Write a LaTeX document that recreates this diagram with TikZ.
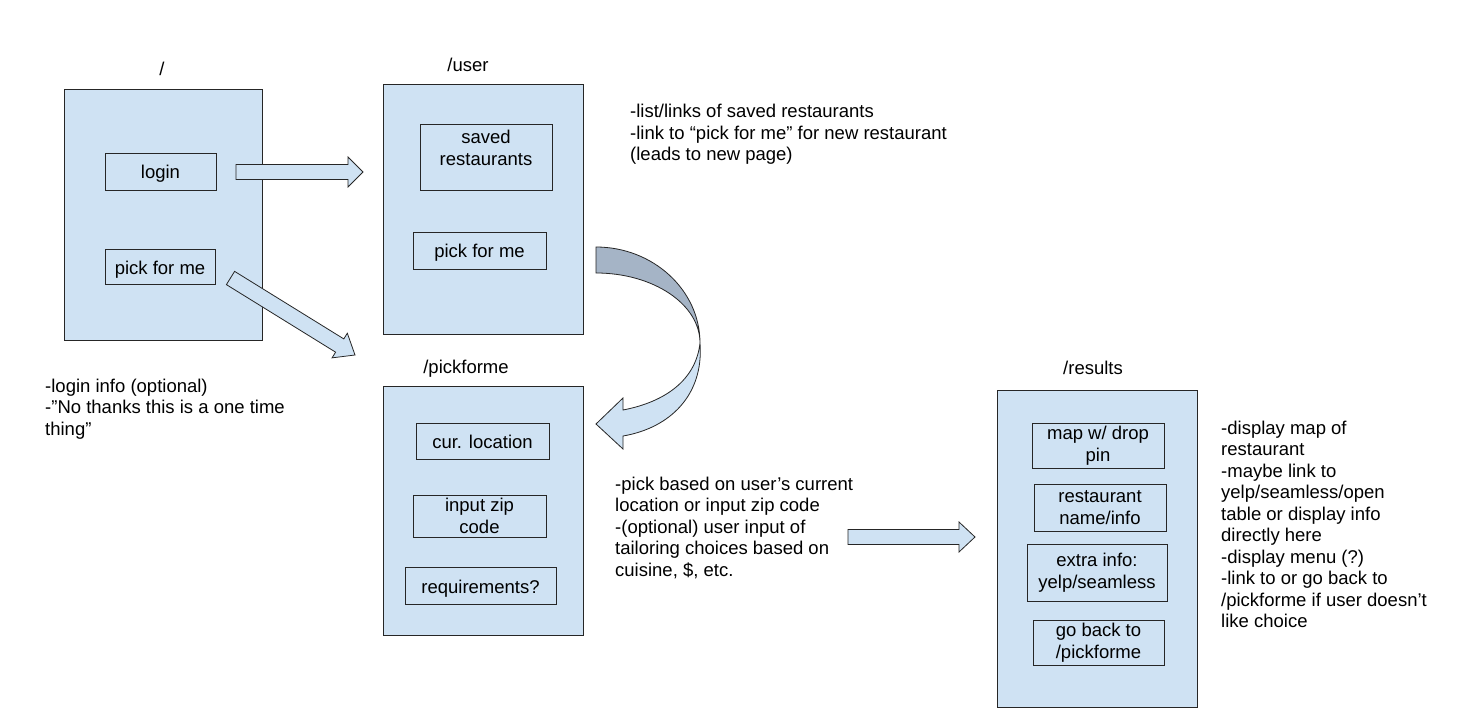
\documentclass[tikz,border=0pt]{standalone}
\usepackage{fontspec}
\setmainfont{Liberation Sans}
\usetikzlibrary{calc}
\definecolor{pagefill}{HTML}{CFE2F3}
\definecolor{twistfill}{RGB}{165,180,198}
\newcommand\fsz{\fontsize{18.5}{21.5}\selectfont}
\tikzset{
  pagebox/.style={draw=black!85, line width=0.8pt, fill=pagefill, inner sep=0pt},
  itembox/.style={draw=black!85, line width=0.8pt, fill=pagefill, inner sep=0pt, align=center, font=\fsz},
  oneline/.style={text height=15pt, text depth=0pt},
  title/.style={inner sep=0pt, anchor=base, font=\fsz},
  note/.style={inner sep=0pt, anchor=base west, align=left, font=\fsz},
  fatarrow/.style={draw=black!85, line width=0.8pt, fill=pagefill, line join=miter},
}
% #1 start, #2 end, #3 shaft half width, #4 head half width, #5 head length
\newcommand\fatarrow[5]{%
  \coordinate (fa-hb) at ($(#2)!#5!(#1)$);
  \draw[fatarrow] ($(#1)!#3!90:(#2)$) -- ($(fa-hb)!#3!-90:(#1)$) -- ($(fa-hb)!#4!-90:(#1)$)
    -- (#2) -- ($(fa-hb)!#4!90:(#1)$) -- ($(fa-hb)!#3!90:(#1)$) -- ($(#1)!#3!-90:(#2)$) -- cycle;
}
\begin{document}
\begin{tikzpicture}[x=1pt, y=-1pt]
\useasboundingbox (0,0) rectangle (1457,722);
\fill[white] (0,0) rectangle (1457,722);

% page boxes
\node[pagebox, minimum width=198pt, minimum height=251pt] (root) at (163,214.5) {};
\node[pagebox, minimum width=200pt, minimum height=250pt] (user) at (483,209) {};
\node[pagebox, minimum width=200pt, minimum height=249pt] (pick) at (483,510.5) {};
\node[pagebox, minimum width=200pt, minimum height=317pt] (results) at (1097,548.5) {};

% titles
\node[title] (troot) at (162,76) {/};
\node[title] (tuser) at (468,72) {/user};
\node[title] (tpick) at (466,373) {/pickforme};
\node[title] (tres) at (1093,374) {/results};

% root items
\node[itembox, oneline, minimum width=111pt, minimum height=37pt] (login) at (160.5,171.5) {login};
\node[itembox, oneline, minimum width=110pt, minimum height=35pt] (pick1) at (160,266.5) {pick for me};

% user items
\node[itembox, minimum width=132pt, minimum height=66pt] (saved) at (486,157) {};
\node[inner sep=0pt, align=center, font=\fsz, anchor=base] (savedtxt) at (486,165.5) {saved\\restaurants};
\node[itembox, oneline, minimum width=133pt, minimum height=37pt] (pick2) at (479.5,250.5) {pick for me};

% pickforme items
\node[itembox, oneline, minimum width=133pt, minimum height=36pt] (curloc) at (482.5,441) {cur. location};
\node[itembox, minimum width=133pt, minimum height=42pt] (zip) at (479.5,516) {input zip\\code};
\node[itembox, oneline, minimum width=151pt, minimum height=37pt] (req) at (480.5,585.5) {requirements?};

% results items
\node[itembox, minimum width=132pt, minimum height=45pt] (map) at (1098,445.5) {map w/ drop\\pin};
\node[itembox, minimum width=132pt, minimum height=47pt] (rest) at (1100,507.5) {restaurant\\name/info};
\node[itembox, minimum width=140pt, minimum height=57pt] (extra) at (1097,572.5) {extra info:\\yelp/seamless};
\node[itembox, minimum width=131pt, minimum height=45pt] (goback) at (1098.5,642.5) {go back to\\/pickforme};

% notes (anchored at the baseline of the last line)
\node[note] (nroot) at (45,435) {-login info (optional)\\-”No thanks this is a one time\\thing”};
\node[note] (nuser) at (630,161) {-list/links of saved restaurants\\-link to “pick for me” for new restaurant\\(leads to new page)};
\node[note] (npick) at (615,576) {-pick based on user’s current\\location or input zip code\\-(optional) user input of\\tailoring choices based on\\cuisine, \$, etc.};
\node[note] (nres) at (1221,627.5) {-display map of\\restaurant\\-maybe link to\\yelp/seamless/open\\table or display info\\directly here\\-display menu (?)\\-link to or go back to\\/pickforme if user doesn’t\\like choice};

% block arrows
\coordinate (a1s) at (236,172);
\coordinate (a1e) at (363,172);
\fatarrow{a1s}{a1e}{7.5pt}{15pt}{15pt}
\coordinate (a2s) at (230.5,278);
\coordinate (a2e) at (355,355);
\fatarrow{a2s}{a2e}{7.8pt}{14.5pt}{18pt}
\coordinate (a3s) at (848,537);
\coordinate (a3e) at (975,537);
\fatarrow{a3s}{a3e}{7.5pt}{15pt}{16pt}

% curved arrow from /user to /pickforme
\draw[fatarrow, fill=twistfill] (596,247) .. controls (653,247) and (700,290) .. (700,343)
  .. controls (700,304) and (653,273) .. (596,273) -- cycle;
\draw[fatarrow] (700,343) .. controls (704,395) and (670,428) .. (623,436)
  -- (623,449) -- (596,424) -- (623,398) -- (623,410)
  .. controls (665,402) and (696,380) .. (700,343) -- cycle;
\end{tikzpicture}
\end{document}
